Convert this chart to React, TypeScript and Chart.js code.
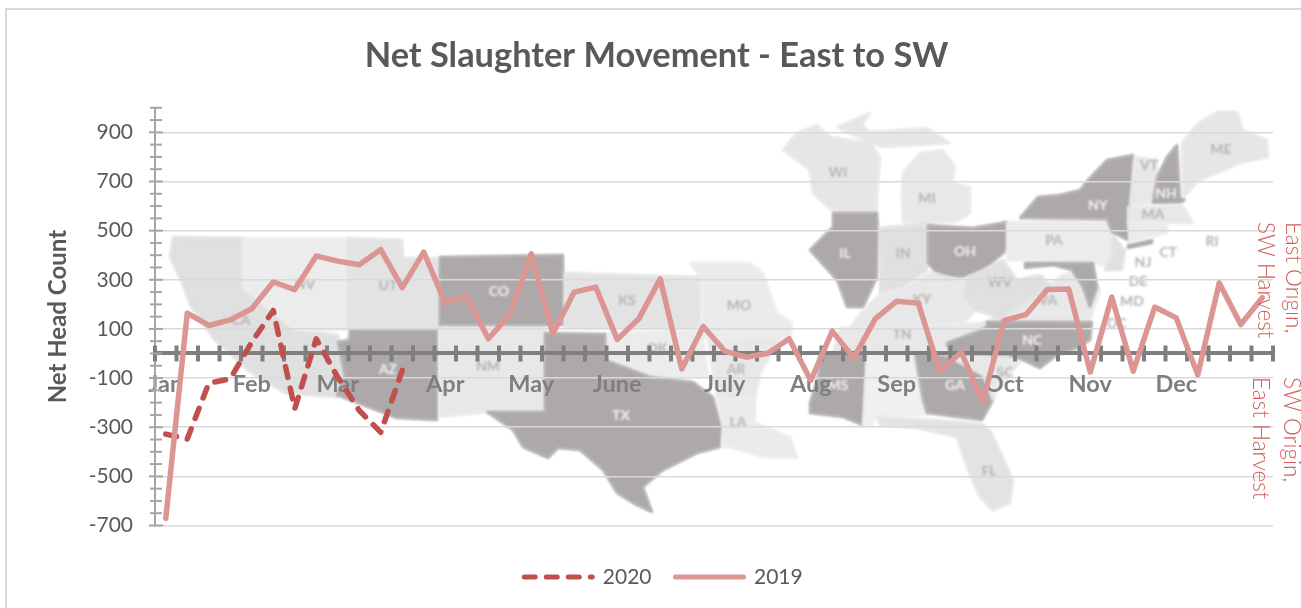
import React, { useEffect, useRef } from "react";
import { Chart, registerables } from "chart.js";

Chart.register(...registerables);

const monthLabels = ["Jan","","","","Feb","","","","Mar","","","","","Apr","","","","May","","","","June","","","","","July","","","","Aug","","","","Sep","","","","","Oct","","","","Nov","","","","Dec","","","",""];
const values2020 = [-328,-348,-121,-103,46,175,-225,60,-97,-232,-321,-69];
const values2019 = [-671,164,114,137,182,291,260,397,376,361,423,268,413,205,232,60,158,406,80,250,270,57,141,304,-63,110,10,-15,1,60,-110,91,-18,141,213,205,-73,5,-196,135,158,260,262,-76,230,-72,189,145,-87,287,118,227];

const D = "#ada9aa";
type Shape = [string, number[]];
const mapShapes: Shape[] = [
  ["#e0e0e0",[173,237,243,238,243,288,295,330,338,335,340,350,345,372,338,397,285,393,250,372,213,338,190,305,183,285,170,257]],
  ["#ececec",[243,238,348,238,348,330,295,330,243,288]],
  ["#e3e3e3",[348,238,402,240,403,258,440,258,440,328,348,328]],
  [D,[350,330,437,330,437,420,397,418,337,395,345,375,338,342,349,340]],
  ["#e8e8e8",[440,328,545,328,545,412,487,412,457,415,440,417]],
  [D,[440,257,563,255,563,325,440,325]],
  ["#e3e3e3",[565,273,700,277,700,328,565,328]],
  ["#ececec",[605,333,702,330,708,377,650,377,605,360]],
  [D,[545,333,605,334,605,360,650,377,693,382,713,397,722,427,720,447,697,453,663,470,643,487,652,512,633,503,617,493,603,470,580,450,558,448,548,458,523,447,513,430,487,412,545,412]],
  ["#ebebeb",[690,263,750,263,763,273,777,313,792,323,790,337,767,340,703,338,702,280]],
  ["#e8e8e8",[708,340,780,340,760,373,755,398,717,398]],
  ["#ebebeb",[717,400,755,400,755,423,790,437,797,458,763,457,730,447,722,447,723,427]],
  ["#e6e6e6",[783,150,797,133,817,125,830,137,870,143,880,157,877,197,877,212,833,212,813,193,810,170]],
  ["#e6e6e6",[837,127,870,113,862,125,870,132,927,128,950,143,883,147,870,143]],
  ["#e8e8e8",[903,173,920,153,943,150,955,167,952,183,970,187,970,213,957,222,903,222,902,197]],
  [D,[833,213,877,213,878,233,877,277,863,307,847,307,837,280,810,250,833,227]],
  ["#e0e0e0",[880,228,927,223,927,270,903,287,880,293]],
  [D,[928,225,957,227,973,228,1007,222,1007,250,983,270,963,277,940,277,928,263]],
  ["#e8e8e8",[880,295,905,287,930,272,960,280,985,272,995,285,965,322,880,327,850,327,865,308]],
  ["#e8e8e8",[1020,305,1050,285,1062,275,1085,270,1100,290,1090,320,975,327]],
  ["#e0e0e0",[968,277,983,270,1003,260,1017,280,1040,275,1050,285,1020,305,1000,318,975,310,965,295]],
  ["#ececec",[1007,222,1107,220,1113,237,1123,250,1113,267,1093,263,1007,260]],
  ["#e0e0e0",[1113,237,1125,250,1122,270,1105,270,1113,255]],
  [D,[1020,218,1038,197,1060,195,1080,190,1088,180,1107,160,1133,155,1130,207,1128,240,1112,232,1107,219]],
  [D,[1128,245,1152,240,1152,243,1128,248]],
  ["#e8e8e8",[1135,157,1157,160,1155,180,1152,203,1130,205]],
  [D,[1177,145,1180,197,1185,200,1180,203,1153,203,1157,177,1167,157]],
  ["#e6e6e6",[1198,123,1217,112,1237,112,1243,130,1267,140,1268,157,1240,163,1217,173,1200,180,1183,197,1182,143]],
  ["#e8e8e8",[1128,207,1182,205,1193,223,1167,223,1128,222]],
  ["#ececec",[1128,222,1167,223,1167,233,1130,242]],
  [D,[1025,263,1093,263,1097,287,1090,307,1083,287,1072,270,1053,265,1025,268]],
  ["#e8e8e8",[840,328,990,323,977,332,947,343,943,352,833,352]],
  [D,[987,322,1092,322,1090,340,1077,348,1057,355,1040,368,1023,360,1007,357,977,355,950,357,947,343,977,332,987,327]],
  [D,[820,353,867,353,863,425,843,417,810,413,810,403,818,377]],
  ["#f0f0f0",[867,353,915,353,923,397,927,415,877,417,872,425,863,425]],
  [D,[915,353,950,357,983,375,993,400,982,420,927,413,923,400]],
  ["#e8e8e8",[950,357,1007,357,1020,362,997,390,993,400,983,375]],
  ["#e3e3e3",[878,417,980,423,990,430,1013,480,1010,503,993,510,980,497,967,467,957,437,917,428,880,425]],
];
type MapLabel = [string, number, number, boolean];
const mapLabels: MapLabel[] = [
  ["WI",838,172,false],["MI",927,198,false],["IL",845,253,true],["IN",903,253,false],["OH",965,251,true],
  ["KY",922,299,false],["WV",1000,282,false],["PA",1054,240,false],["NY",1098,205,true],["VT",1149,165,false],
  ["NH",1166,193,true],["MA",1153,214,false],["CT",1168,252,false],["NJ",1143,262,false],["DE",1138,281,false],
  ["MD",1132,301,false],["DC",1117,323,false],["RI",1212,241,false],["ME",1221,149,false],["VA",1048,300,false],
  ["NC",1032,340,true],["SC",1005,372,false],["TN",902,334,false],["GA",955,385,true],["MS",838,385,true],
  ["FL",989,471,false],["LA",738,422,false],["AR",736,369,false],["MO",739,305,false],["KS",627,300,false],
  ["OK",657,348,false],["TX",621,415,true],["NM",488,366,false],["CO",499,291,true],["AZ",388,369,true],
  ["UT",388,285,false],["NV",305,284,false],["CA",241,320,false],
];
type SideNote = [string, number, number];
const sideNotes: SideNote[] = [
  ["East Origin,",1293,222],["SW Harvest",1265,222],["SW Origin,",1291,377],["East Harvest",1260,377],
];

const FONT = "Lato, Carlito, sans-serif";

const decor = {
  id: "decor",
  afterLayout(chart: any) {
    const l = chart.legend;
    l.top += 17; l.bottom += 17;
    l.left += 27; l.right += 27;
    const t = chart.titleBlock;
    t.left += 20; t.right += 20;
  },
  beforeDraw(chart: any) {
    const c = chart.ctx;
    c.save();
    c.fillStyle = "#fff";
    c.fillRect(0, 0, chart.width, chart.height);
    c.fillStyle = "#d9d9d9";
    c.fillRect(5, 8, 2, chart.height - 8);
    c.fillRect(5, 8, chart.width - 5, 2);
    c.filter = "blur(0.9px)";
    c.lineWidth = 2;
    c.lineJoin = "round";
    for (const [col, p] of mapShapes) {
      c.fillStyle = col;
      c.strokeStyle = col;
      c.beginPath();
      c.moveTo(p[0], p[1]);
      for (let i = 2; i < p.length; i += 2) c.lineTo(p[i], p[i + 1]);
      c.closePath();
      c.fill();
      c.stroke();
    }
    c.filter = "blur(0.8px)";
    c.font = `bold 14px ${FONT}`;
    c.textAlign = "center";
    c.textBaseline = "middle";
    for (const [t, x, y, light] of mapLabels) {
      c.fillStyle = light ? "#f4f2f2" : "#b4b4b4";
      c.fillText(t, x, y);
    }
    c.restore();
  },
  beforeDatasetsDraw(chart: any) {
    const c = chart.ctx;
    const { x, y } = chart.scales;
    const half = (x.getPixelForValue(1) - x.getPixelForValue(0)) / 2;
    const y0 = y.getPixelForValue(0);
    c.save();
    c.fillStyle = "#7f7f7f";
    for (let i = 0; i < monthLabels.length; i++) {
      c.fillRect(x.getPixelForValue(i) - half - 2, y0 - 8, 4, 16);
    }
    c.fillRect(x.right - 2, y0 - 8, 4, 16);
    c.fillStyle = "#a6a6a6";
    for (const t of y.ticks) {
      const py = y.getPixelForValue(t.value);
      const major = (t.value + 700) % 200 === 0;
      c.fillRect(major ? x.left - 6 : x.left - 5, py - 1, major ? 14 : 12, 2);
    }
    c.restore();
  },
  afterDraw(chart: any) {
    const c = chart.ctx;
    c.save();
    c.font = `300 22.5px ${FONT}`;
    c.fillStyle = "#d0605c";
    c.textAlign = "left";
    c.textBaseline = "middle";
    for (const [t, x, y] of sideNotes) {
      c.save();
      c.translate(x, y);
      c.rotate(Math.PI / 2);
      c.fillText(t, 0, 0);
      c.restore();
    }
    c.restore();
  },
};

export default function App() {
  const ref = useRef<HTMLCanvasElement>(null);
  useEffect(() => {
    const chart = new Chart(ref.current!, {
      type: "line",
      plugins: [decor],
      data: {
        labels: monthLabels,
        datasets: [
          { label: "2020", data: values2020, order: 2, borderColor: "#c0504d", backgroundColor: "#c0504d", borderWidth: 5.5, borderDash: [11, 11], borderCapStyle: "round", borderJoinStyle: "round", pointRadius: 0, tension: 0, fill: false },
          { label: "2019", data: values2019, order: 1, borderColor: "#db9694", backgroundColor: "#db9694", borderWidth: 5.5, borderCapStyle: "round", borderJoinStyle: "round", pointRadius: 0, tension: 0, fill: false },
        ],
      },
      options: {
        responsive: false,
        animation: false,
        layout: { padding: { left: 0, right: 28, top: 0, bottom: 27.5 } },
        plugins: {
          tooltip: { enabled: false },
          title: {
            display: true,
            text: "Net Slaughter Movement - East to SW",
            color: "#595959",
            font: { family: FONT, size: 34.4, weight: "bold" },
            padding: { top: 35, bottom: 31.5 },
          },
          legend: {
            position: "bottom",
            labels: {
              usePointStyle: true,
              pointStyle: "line",
              pointStyleWidth: 68,
              color: "#595959",
              padding: 24,
              font: { family: FONT, size: 21 },
              generateLabels(chart: any) {
                const items = Chart.defaults.plugins.legend.labels.generateLabels(chart);
                for (const it of items) {
                  const ds = chart.data.datasets[it.datasetIndex];
                  it.lineDash = ds.borderDash || [];
                  it.lineCap = "round";
                  it.lineWidth = 5;
                  it.strokeStyle = ds.borderColor;
                }
                return items;
              },
              sort: (a: any, b: any) => a.datasetIndex - b.datasetIndex,
            },
          },
        },
        scales: {
          x: {
            position: { y: 0 },
            offset: true,
            grid: { display: false, offset: true },
            border: { color: "#7f7f7f", width: 4 },
            ticks: {
              autoSkip: false,
              maxRotation: 0,
              minRotation: 0,
              padding: 9,
              color: "#7f7f7f",
              font: { family: FONT, size: 23.5, weight: "bold" },
            },
          },
          y: {
            min: -700,
            max: 1000,
            afterFit(s: any) { s.width = 155; },
            border: { color: "#a6a6a6", width: 2 },
            grid: {
              drawTicks: false,
              lineWidth: 1.5,
              color: (ctx: any) => ((ctx.tick.value + 700) % 200 === 0 ? "#d9d9d9" : "rgba(0,0,0,0)"),
            },
            ticks: {
              stepSize: 50,
              autoSkip: false,
              padding: 22,
              color: "#595959",
              font: { family: FONT, size: 21 },
              callback: (v: any) => ((Number(v) + 700) % 200 === 0 ? String(v) : ""),
            },
            title: {
              display: true,
              text: "Net Head Count",
              color: "#595959",
              font: { family: FONT, size: 24, weight: "bold" },
              padding: { top: 44, bottom: 0 },
            },
          },
        },
      },
    } as any);
    return () => chart.destroy();
  }, []);
  return <canvas ref={ref} width={1301} height={608} style={{ position: "fixed", left: 0, top: 0, display: "block" }} />;
}
